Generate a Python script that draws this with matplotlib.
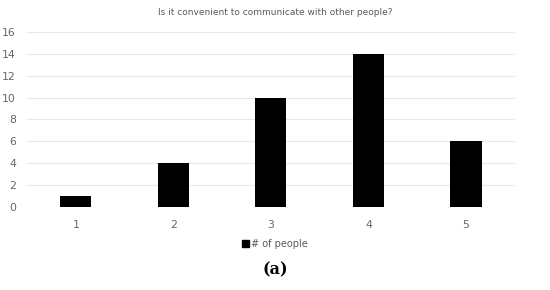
import matplotlib
matplotlib.use("Agg")
import matplotlib.pyplot as plt
from matplotlib.patches import Patch

categories = ["1", "2", "3", "4", "5"]
values = [1, 4, 10, 14, 6]
yticks = [0, 2, 4, 6, 8, 10, 12, 14, 16]
title = "Is it convenient to communicate with other people?"
series_name = "# of people"

fig = plt.figure(figsize=(5.5, 2.9), dpi=100)
ax = fig.add_axes([0.049, 0.286, 0.887, 0.604])
x = list(range(len(categories)))
ax.bar(x, values, width=0.32, color="black", zorder=3)
ax.set_xlim(-0.5, len(categories) - 0.5)
ax.set_ylim(0, 16)
ax.set_yticks(yticks)
ax.set_xticks(x)
ax.set_xticklabels(categories)
ax.grid(axis="y", color="#e8e8e8", linewidth=0.8, zorder=0)
for s in ax.spines.values():
    s.set_visible(False)
ax.tick_params(length=0, colors="#666666", labelsize=7.8)
ax.tick_params(axis="x", pad=9)
ax.tick_params(axis="y", pad=8)
fig.text(0.5, 0.957, title, ha="center", va="center", fontsize=6.5, color="#595959")
fig.legend(handles=[Patch(color="black")], labels=[series_name], loc="center",
           bbox_to_anchor=(0.5, 0.158), frameon=False, fontsize=7, labelcolor="#595959",
           handlelength=0.7, handleheight=0.7, handletextpad=0.3)
fig.text(0.5, 0.068, "(a)", ha="center", va="center", fontsize=11.5, fontweight="bold",
         family="DejaVu Serif", color="black")
fig.savefig("out.png", dpi=100)
